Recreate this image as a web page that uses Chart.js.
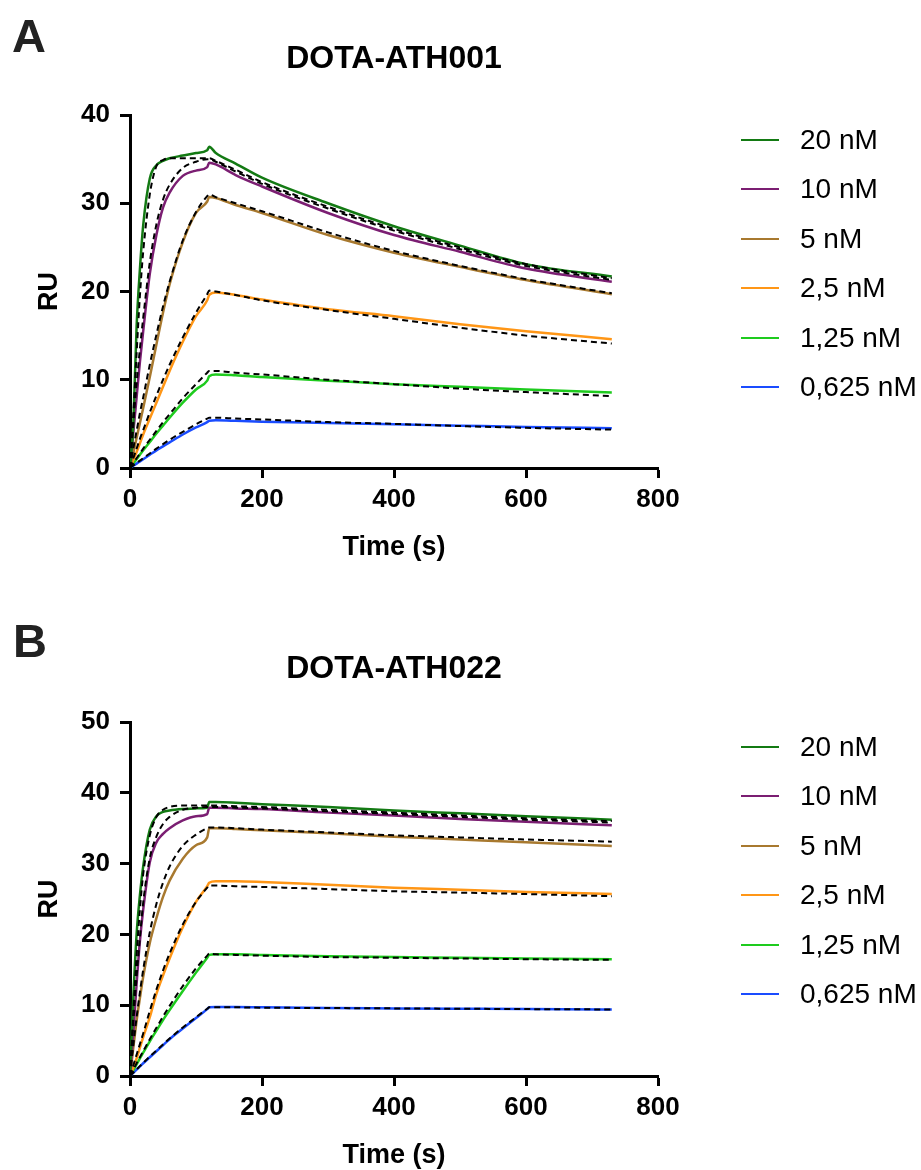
<!DOCTYPE html>
<html>
<head>
<meta charset="utf-8">
<script src="https://cdn.jsdelivr.net/npm/chart.js@4/dist/chart.umd.min.js"></script>
<style>
  html, body { margin:0; padding:0; background:#fff; }
  #page { position:relative; width:921px; height:1170px; overflow:hidden; font-family:"Liberation Sans", Arial, sans-serif; color:#000; }
  canvas { position:absolute; left:0; }
  .letter { position:absolute; font-weight:bold; font-size:47px; line-height:1; color:#222; }
  .title { position:absolute; left:194px; width:400px; text-align:center; font-weight:bold; font-size:32px; line-height:1; white-space:nowrap; }
  .lg-line { position:absolute; left:741px; width:38px; height:2px; }
  .lg-text { position:absolute; left:800px; font-size:28px; line-height:1; white-space:nowrap; }
</style>
</head>
<body>
<div id="page">
  <canvas id="cA" width="921" height="590" style="top:0px"></canvas>
  <canvas id="cB" width="921" height="580" style="top:590px"></canvas>
  <div class="letter" style="left:12px;top:12px">A</div>
  <div class="letter" style="left:13px;top:617px">B</div>
  <div class="title" style="top:41px">DOTA-ATH001</div>
  <div class="title" style="top:651px">DOTA-ATH022</div>
</div>
<script>
// ---- data ----
const seriesLabels = ['20 nM', '10 nM', '5 nM', '2,5 nM', '1,25 nM', '0,625 nM'];
const seriesColors = ['#137a13', '#7b1e72', '#a8792f', '#ff9616', '#1ecb1e', '#1a4cff'];
const times = [0, 5, 10, 15, 20, 30, 40, 50, 60, 80, 100, 117, 120, 130, 160, 200, 300, 400, 500, 600, 730];
const xTicks = [0, 200, 400, 600, 800];
const yTicksA = [0, 10, 20, 30, 40];
const yTicksB = [0, 10, 20, 30, 40, 50];

// Panel A: DOTA-ATH001 (measured curves and 1:1 fits)
const a20      = [0, 5, 16, 22.5, 27.5, 32.8, 34.3, 34.8, 35.1, 35.4, 35.7, 36.0, 36.4, 35.7, 34.5, 32.9, 30.0, 27.4, 25.2, 23.1, 21.7];
const a20fit   = [0, 6, 13, 19.5, 24.5, 31.0, 34.2, 34.9, 35.1, 35.1, 35.1, 35.1, 35.1, 34.8, 33.8, 32.4, 29.6, 27.1, 25.0, 23.1, 21.5];
const a10      = [0, 4, 8, 12, 15.5, 22.0, 26.4, 29.5, 31.2, 33.1, 33.7, 34.1, 34.6, 34.4, 33.2, 31.9, 28.9, 26.4, 24.5, 22.6, 21.1];
const a10fit   = [0, 5, 9.5, 13.5, 17, 23.3, 27.6, 30.4, 32.1, 34.0, 34.7, 35.0, 35.0, 34.7, 33.6, 32.2, 29.4, 26.9, 24.8, 22.9, 21.3];
const a5       = [0, 1.7, 3.4, 5.1, 6.8, 10.3, 14.0, 17.6, 20.8, 25.6, 28.9, 30.2, 30.7, 30.6, 29.8, 28.9, 26.4, 24.4, 22.8, 21.3, 19.7];
const a5fit    = [0, 2.2, 4.2, 6.2, 8.0, 11.7, 15.1, 18.3, 21.1, 25.8, 29.0, 30.8, 31.0, 30.7, 30.0, 29.1, 26.7, 24.6, 22.9, 21.4, 19.8];
const a25      = [0, 0.9, 1.8, 2.8, 3.8, 5.6, 7.4, 9.2, 11.0, 14.3, 17.2, 19.0, 19.6, 19.9, 19.6, 19.1, 18.0, 17.2, 16.3, 15.5, 14.6];
const a25fit   = [0, 1.1, 2.2, 3.3, 4.3, 6.3, 8.2, 10.0, 11.7, 14.8, 17.6, 19.7, 20.1, 20.0, 19.6, 19.0, 17.9, 16.9, 15.9, 15.0, 14.1];
const a125     = [0, 0.5, 1.0, 1.5, 2.0, 2.95, 3.9, 4.8, 5.7, 7.4, 8.9, 9.9, 10.4, 10.6, 10.5, 10.3, 9.9, 9.5, 9.2, 8.9, 8.55];
const a125fit  = [0, 0.55, 1.1, 1.65, 2.2, 3.2, 4.2, 5.2, 6.1, 7.9, 9.5, 10.8, 11.0, 11.0, 10.8, 10.6, 10.0, 9.5, 9.0, 8.6, 8.15];
const a0625    = [0, 0.25, 0.5, 0.75, 1.0, 1.5, 2.0, 2.45, 2.9, 3.8, 4.6, 5.2, 5.35, 5.4, 5.35, 5.25, 5.1, 4.95, 4.8, 4.65, 4.5];
const a0625fit = [0, 0.28, 0.56, 0.84, 1.1, 1.65, 2.2, 2.7, 3.2, 4.1, 4.95, 5.6, 5.7, 5.7, 5.6, 5.5, 5.2, 5.0, 4.75, 4.55, 4.35];

// Panel B: DOTA-ATH022
const b20      = [0, 11, 20, 25.5, 29.6, 34.8, 36.7, 37.3, 37.5, 37.7, 37.8, 37.9, 38.7, 38.7, 38.6, 38.4, 38.0, 37.5, 37.1, 36.7, 36.2];
const b20fit   = [0, 9, 17, 23.5, 28.5, 34.0, 36.6, 37.6, 38.0, 38.2, 38.2, 38.2, 38.2, 38.2, 38.1, 38.0, 37.6, 37.2, 36.8, 36.4, 36.0];
const b10      = [0, 6, 13, 19, 23.5, 30.2, 33.0, 34.2, 35.0, 36.1, 36.7, 37.0, 37.9, 37.9, 37.8, 37.7, 37.2, 36.8, 36.3, 35.9, 35.4];
const b10fit   = [0, 7.5, 14, 19.5, 24.5, 30.8, 33.8, 35.6, 36.6, 37.6, 37.9, 38.0, 38.0, 38.0, 37.9, 37.8, 37.4, 37.0, 36.6, 36.2, 35.8];
const b5       = [0, 4, 7.8, 11, 14, 18.8, 22.3, 25.3, 27.6, 30.7, 32.6, 33.7, 35.0, 35.0, 34.9, 34.7, 34.3, 33.8, 33.4, 33.0, 32.5];
const b5fit    = [0, 4.3, 8.3, 11.8, 15, 20.3, 24.3, 27.3, 29.6, 32.5, 34.1, 35.0, 35.1, 35.1, 35.0, 34.8, 34.4, 34.0, 33.7, 33.4, 33.1];
const b25      = [0, 1.2, 2.5, 4, 5.5, 8.3, 11.6, 14.2, 16.6, 21.0, 24.6, 26.8, 27.3, 27.5, 27.5, 27.4, 27.0, 26.6, 26.3, 26.0, 25.7];
const b25fit   = [0, 1.5, 3, 4.5, 6, 9.2, 12.2, 14.9, 17.3, 21.4, 24.6, 26.6, 26.9, 26.9, 26.8, 26.7, 26.4, 26.1, 25.9, 25.7, 25.4];
const b125     = [0, 0.8, 1.65, 2.5, 3.3, 4.9, 6.4, 7.9, 9.3, 12.0, 14.6, 16.7, 17.1, 17.2, 17.2, 17.1, 16.9, 16.8, 16.7, 16.6, 16.5];
const b125fit  = [0, 0.9, 1.8, 2.65, 3.5, 5.2, 6.8, 8.4, 9.9, 12.7, 15.2, 17.0, 17.3, 17.2, 17.1, 17.0, 16.8, 16.7, 16.6, 16.5, 16.4];
const b0625    = [0, 0.45, 0.9, 1.35, 1.8, 2.65, 3.5, 4.35, 5.2, 6.7, 8.2, 9.45, 9.7, 9.75, 9.75, 9.7, 9.6, 9.55, 9.5, 9.45, 9.4];
const b0625fit = [0, 0.47, 0.93, 1.4, 1.85, 2.75, 3.6, 4.45, 5.3, 6.85, 8.3, 9.5, 9.7, 9.7, 9.7, 9.65, 9.6, 9.55, 9.5, 9.45, 9.4];

// ---- build ----
const FONT = '"Liberation Sans", Arial, sans-serif';
const pts = (vals) => times.map((t, i) => ({ x: t, y: vals[i] }));

function buildDatasets(measured, fits) {
  const ds = [];
  fits.forEach((f) => ds.push({
    data: pts(f), borderColor: '#000', borderWidth: 2, borderDash: [6, 4],
    pointRadius: 0, fill: false, cubicInterpolationMode: 'monotone', order: 0
  }));
  measured.forEach((m, i) => ds.push({
    label: seriesLabels[i], data: pts(m), borderColor: seriesColors[i], borderWidth: 2.5,
    pointRadius: 0, fill: false, cubicInterpolationMode: 'monotone', order: 1
  }));
  return ds;
}

function makePanel(id, canvasTop, canvasH, areaTop, areaBottom, yTicks, measured, fits, legendTop) {
  const topPad = areaTop - canvasTop;
  const xScaleH = canvasH - (areaBottom - canvasTop);
  const xTitleCenter = areaBottom + 80 - canvasTop;
  const xTitlePad = canvasH - xTitleCenter - 13.5;
  new Chart(document.getElementById(id), {
    type: 'line',
    data: { datasets: buildDatasets(measured, fits) },
    options: {
      responsive: false, animation: false, devicePixelRatio: 1,
      layout: { autoPadding: false, padding: { left: 0, right: 263, top: topPad, bottom: 0 } },
      plugins: { legend: { display: false }, tooltip: { enabled: false }, title: { display: false } },
      scales: {
        x: {
          type: 'linear', min: xTicks[0], max: xTicks[xTicks.length - 1],
          afterBuildTicks: (s) => { s.ticks = xTicks.map(v => ({ value: v })); },
          ticks: { font: { family: FONT, size: 26, weight: 'bold' }, color: '#000', padding: 6, maxRotation: 0, autoSkip: false },
          grid: { drawOnChartArea: false, drawTicks: true, tickLength: 10, tickWidth: 3, tickColor: '#000' },
          border: { display: true, width: 3, color: '#000' },
          title: { display: true, text: 'Time (s)', color: '#000', font: { family: FONT, size: 27, weight: 'bold', lineHeight: 1 }, padding: { top: 0, bottom: xTitlePad } },
          afterFit: (s) => { s.height = xScaleH; }
        },
        y: {
          type: 'linear', min: yTicks[0], max: yTicks[yTicks.length - 1],
          afterBuildTicks: (s) => { s.ticks = yTicks.map(v => ({ value: v })); },
          ticks: { font: { family: FONT, size: 26, weight: 'bold' }, color: '#000', padding: 10 },
          grid: { drawOnChartArea: false, drawTicks: true, tickLength: 10, tickWidth: 3, tickColor: '#000' },
          border: { display: true, width: 3, color: '#000' },
          title: { display: true, text: 'RU', color: '#000', font: { family: FONT, size: 27, weight: 'bold', lineHeight: 1 }, padding: { top: 36, bottom: 0 } },
          afterFit: (s) => { s.width = 130; }
        }
      }
    }
  });
  // legend (HTML)
  const page = document.getElementById('page');
  seriesLabels.forEach((lab, i) => {
    const y = legendTop + i * 49.5;
    const ln = document.createElement('div');
    ln.className = 'lg-line';
    ln.style.top = (y - 1) + 'px';
    ln.style.background = seriesColors[i];
    page.appendChild(ln);
    const tx = document.createElement('div');
    tx.className = 'lg-text';
    tx.style.top = (y - 13.7) + 'px';
    tx.textContent = lab;
    page.appendChild(tx);
  });
}

makePanel('cA', 0, 590, 115, 468, yTicksA,
  [a20, a10, a5, a25, a125, a0625], [a20fit, a10fit, a5fit, a25fit, a125fit, a0625fit], 139.5);
makePanel('cB', 590, 580, 722, 1076, yTicksB,
  [b20, b10, b5, b25, b125, b0625], [b20fit, b10fit, b5fit, b25fit, b125fit, b0625fit], 746.5);
</script>
</body>
</html>
